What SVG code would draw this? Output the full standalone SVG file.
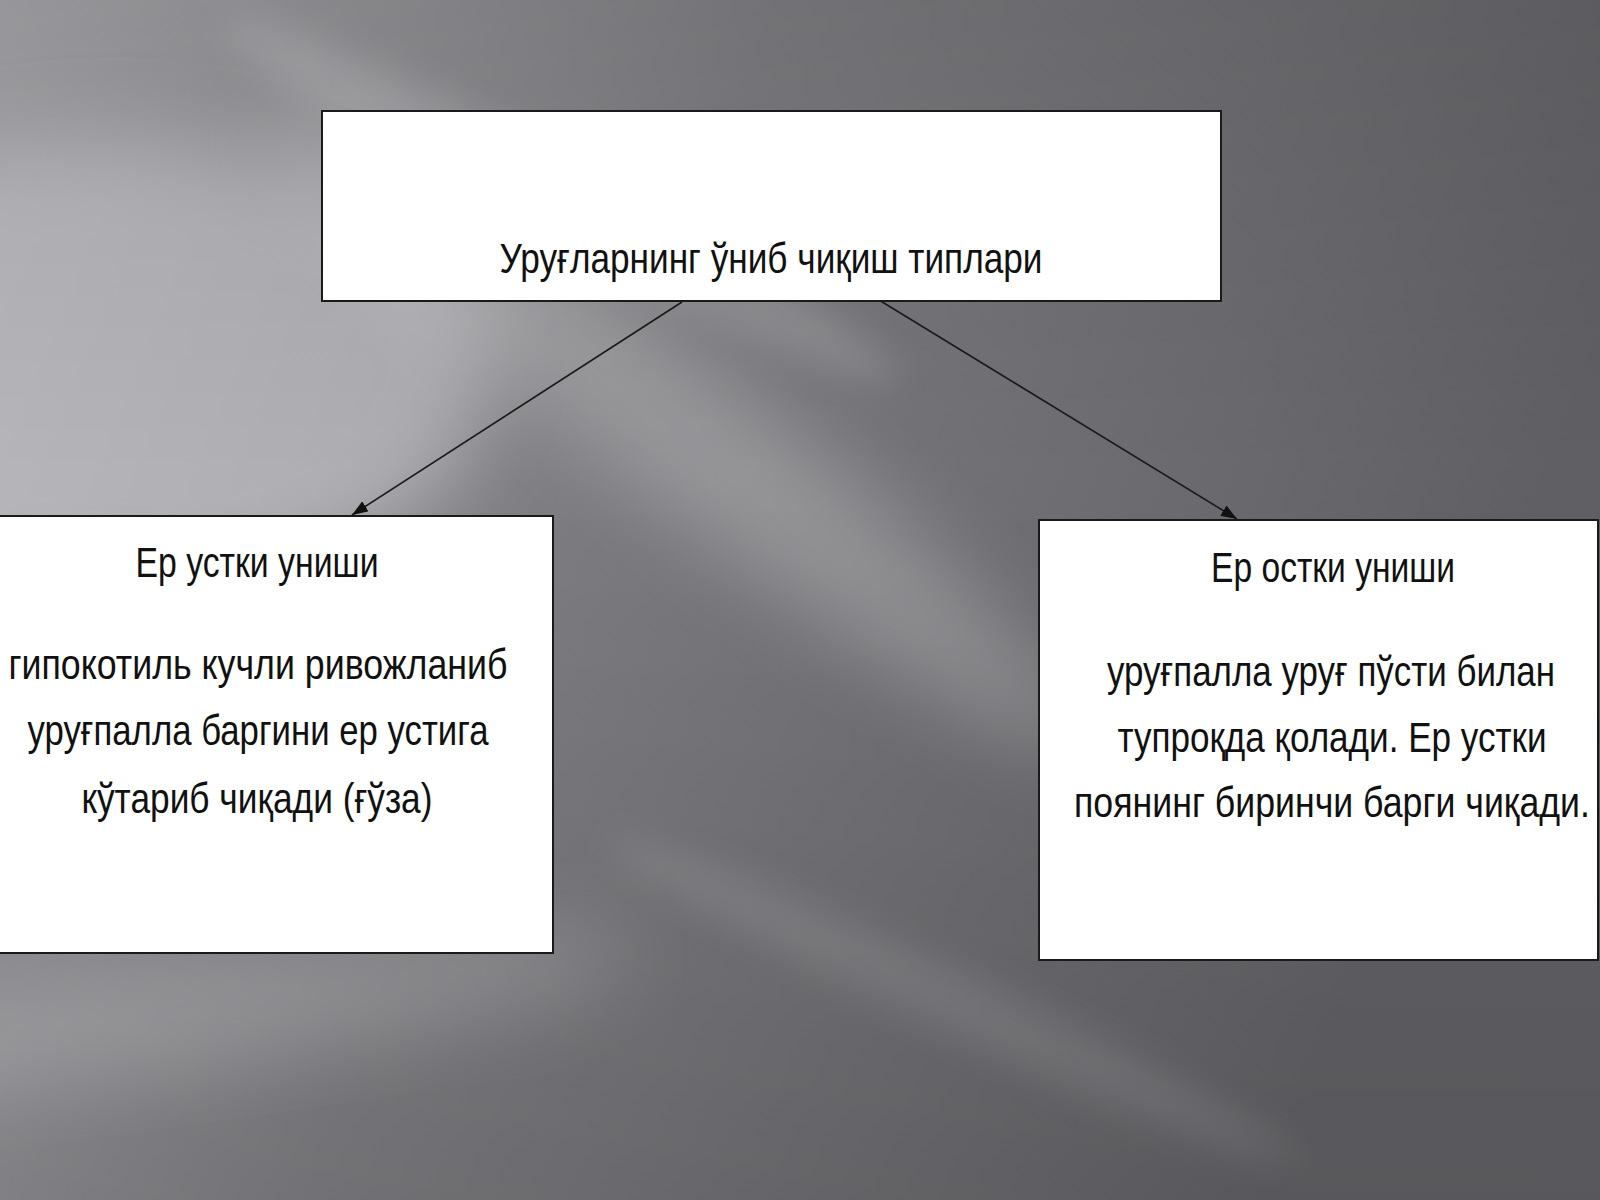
<svg xmlns="http://www.w3.org/2000/svg" width="1600" height="1200" viewBox="0 0 1600 1200">
<defs>
<linearGradient id="bg" x1="0" y1="0" x2="1" y2="0.3">
<stop offset="0" stop-color="#a4a4a8"/>
<stop offset="0.45" stop-color="#7c7c80"/>
<stop offset="1" stop-color="#606064"/>
</linearGradient>
<linearGradient id="shade" x1="0" y1="0" x2="0" y2="1">
<stop offset="0" stop-color="#000" stop-opacity="0.08"/>
<stop offset="0.4" stop-color="#000" stop-opacity="0"/>
<stop offset="1" stop-color="#000" stop-opacity="0.08"/>
</linearGradient>
<filter id="blur" x="-50%" y="-50%" width="200%" height="200%"><feGaussianBlur stdDeviation="40"/></filter>
<filter id="blur2" x="-50%" y="-50%" width="200%" height="200%"><feGaussianBlur stdDeviation="18"/></filter>
<marker id="arr" viewBox="0 0 16 12" refX="16" refY="6" markerWidth="16" markerHeight="12" orient="auto" markerUnits="userSpaceOnUse">
<path d="M0,0 L16,6 L0,12 z" fill="#111"/>
</marker>
<style>
.box{fill:#fff;stroke:#1a1a1a;stroke-width:2}
.t{font-family:"Liberation Sans","DejaVu Sans",sans-serif;font-size:42px;fill:#111;text-anchor:middle}
.conn{stroke:#1a1a1a;stroke-width:1.6;fill:none;marker-end:url(#arr)}
</style>
</defs>
<g id="background">
<rect width="1600" height="1200" fill="url(#bg)"/>
<ellipse cx="110" cy="370" rx="380" ry="230" fill="#c8c8cc" opacity="0.6" filter="url(#blur)"/>
<ellipse cx="680" cy="430" rx="520" ry="70" fill="#ffffff" opacity="0.22" filter="url(#blur)" transform="rotate(38 680 430)"/>
<ellipse cx="560" cy="200" rx="380" ry="40" fill="#ffffff" opacity="0.15" filter="url(#blur2)" transform="rotate(28 560 200)"/>
<ellipse cx="220" cy="1010" rx="420" ry="55" fill="#ffffff" opacity="0.18" filter="url(#blur)" transform="rotate(-8 220 1010)"/>
<ellipse cx="950" cy="1000" rx="380" ry="30" fill="#ffffff" opacity="0.1" filter="url(#blur2)" transform="rotate(25 950 1000)"/>
<rect width="1600" height="1200" fill="url(#shade)"/>
</g>
<g id="connectors">
<line class="conn" x1="682" y1="302" x2="352" y2="515"/>
<line class="conn" x1="879" y1="300" x2="1237" y2="519"/>
</g>
<g id="node-top">
<rect class="box" x="322" y="111" width="899" height="190"/>
<text class="t" transform="translate(771 273) scale(0.85 1)" textLength="638.8" lengthAdjust="spacingAndGlyphs">Уруғларнинг ўниб чиқиш типлари</text>
</g>
<g id="node-left">
<rect class="box" x="-2" y="516" width="555" height="437"/>
<text class="t" transform="translate(257 577) scale(0.85 1)" textLength="285.9" lengthAdjust="spacingAndGlyphs">Ер устки униши</text>
<text class="t" transform="translate(258 679) scale(0.85 1)" textLength="587" lengthAdjust="spacingAndGlyphs">гипокотиль кучли ривожланиб</text>
<text class="t" transform="translate(258 745) scale(0.85 1)" textLength="542.4" lengthAdjust="spacingAndGlyphs">уруғпалла баргини ер устига</text>
<text class="t" transform="translate(257 813) scale(0.85 1)" textLength="412.9" lengthAdjust="spacingAndGlyphs">кўтариб чиқади (ғўза)</text>
</g>
<g id="node-right">
<rect class="box" x="1039" y="520" width="559" height="440"/>
<text class="t" transform="translate(1333 582) scale(0.85 1)" textLength="287" lengthAdjust="spacingAndGlyphs">Ер остки униши</text>
<text class="t" transform="translate(1331 686) scale(0.85 1)" textLength="527" lengthAdjust="spacingAndGlyphs">уруғпалла уруғ пўсти билан</text>
<text class="t" transform="translate(1332 752) scale(0.85 1)" textLength="504.7" lengthAdjust="spacingAndGlyphs">тупроқда қолади. Ер устки</text>
<text class="t" transform="translate(1332 817) scale(0.85 1)" textLength="607" lengthAdjust="spacingAndGlyphs">поянинг биринчи барги чиқади.</text>
</g>
</svg>
